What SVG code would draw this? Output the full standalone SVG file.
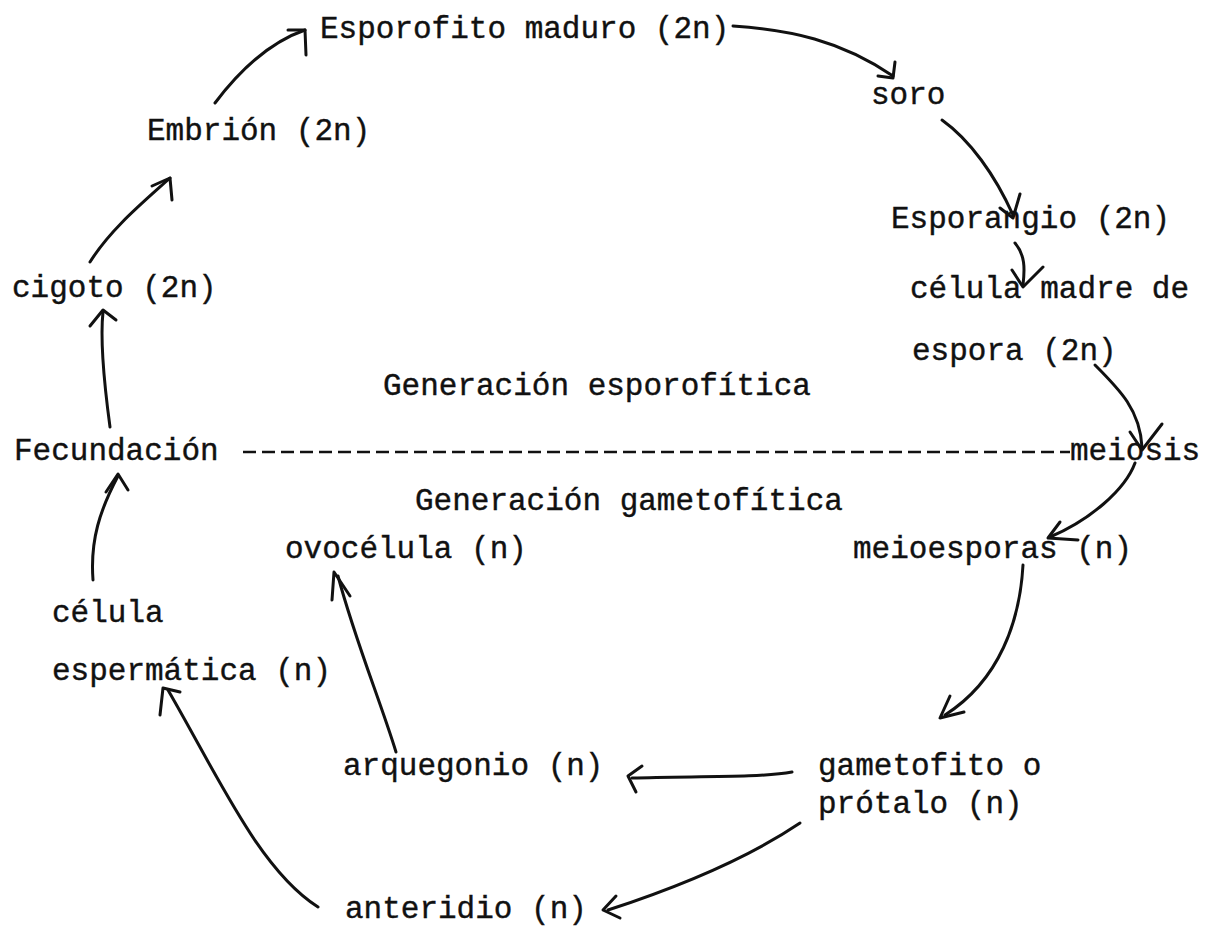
<svg xmlns="http://www.w3.org/2000/svg" width="1206" height="936" viewBox="0 0 1206 936">
<style>
text{font-family:"Liberation Mono","Courier New",monospace;font-size:31px;fill:#111;stroke:#111;stroke-width:0.4}
.c path,.c polyline{fill:none;stroke:#111;stroke-width:3;stroke-linecap:round;stroke-linejoin:round}
.div{stroke:#111;stroke-width:2.5;stroke-dasharray:13 6}
</style>
<rect width="1206" height="936" fill="#fff"/>
<g id="esporofito"><text x="320" y="38">Esporofito maduro (2n)</text></g>
<g id="soro"><text x="871" y="104">soro</text></g>
<g id="embrion"><text x="147" y="140">Embrión (2n)</text></g>
<g id="esporangio"><text x="891" y="228">Esporangio (2n)</text></g>
<g id="celula-madre"><text x="910" y="298">célula madre de</text><text x="912" y="360">espora (2n)</text></g>
<g id="cigoto"><text x="12" y="297">cigoto (2n)</text></g>
<g id="gen-esporofitica"><text x="383" y="395">Generación esporofítica</text></g>
<g id="fecundacion"><text x="14" y="460">Fecundación</text></g>
<g id="meiosis"><text x="1070" y="460">meiosis</text></g>
<line class="div" x1="243" y1="452" x2="1070" y2="452"/>
<g id="gen-gametofitica"><text x="415" y="510">Generación gametofítica</text></g>
<g id="ovocelula"><text x="285" y="558">ovocélula (n)</text></g>
<g id="meioesporas"><text x="853" y="558">meioesporas (n)</text></g>
<g id="celula-esp"><text x="52" y="622">célula</text><text x="52" y="680">espermática (n)</text></g>
<g id="arquegonio"><text x="343" y="775">arquegonio (n)</text></g>
<g id="gametofito"><text x="818" y="775">gametofito o</text><text x="818" y="813">prótalo (n)</text></g>
<g id="anteridio"><text x="345" y="918">anteridio (n)</text></g>
<g class="c" id="connectors">
<path d="M215,103 C240,70 270,42 305,30"/><polyline points="288,30 305,30 306,55"/>
<path d="M90,262 C110,230 140,205 170,178"/><polyline points="152,186 170,178 172,200"/>
<path d="M110,427 C105,390 100,340 103,312"/><polyline points="90,326 103,310 116,320"/>
<path d="M93,580 C90,540 100,510 118,476"/><polyline points="106,492 118,474 128,490"/>
<path d="M318,907 C260,870 220,780 168,690"/><polyline points="160,715 163,688 180,692"/>
<path d="M396,752 C380,700 355,640 338,576"/><polyline points="332,600 334,572 350,596"/>
<path d="M792,772 C760,778 690,776 632,778"/><polyline points="642,766 628,776 636,792"/>
<path d="M800,823 C760,850 700,880 608,910"/><polyline points="616,896 603,910 620,918"/>
<path d="M1023,565 C1020,620 1000,680 945,715"/><polyline points="950,696 940,718 964,712"/>
<path d="M1135,463 C1125,490 1090,520 1050,537"/><polyline points="1060,522 1048,538 1078,540"/>
<path d="M1095,365 C1120,390 1140,410 1142,447"/><polyline points="1130,432 1142,450 1162,424"/>
<path d="M1015,243 C1025,255 1025,268 1023,285"/><polyline points="1012,270 1023,287 1043,267"/>
<path d="M942,120 C970,140 995,175 1013,215"/><polyline points="1000,208 1013,218 1020,194"/>
<path d="M733,26 C790,30 840,40 893,76"/><polyline points="878,76 893,78 895,62"/>
</g>
</svg>
